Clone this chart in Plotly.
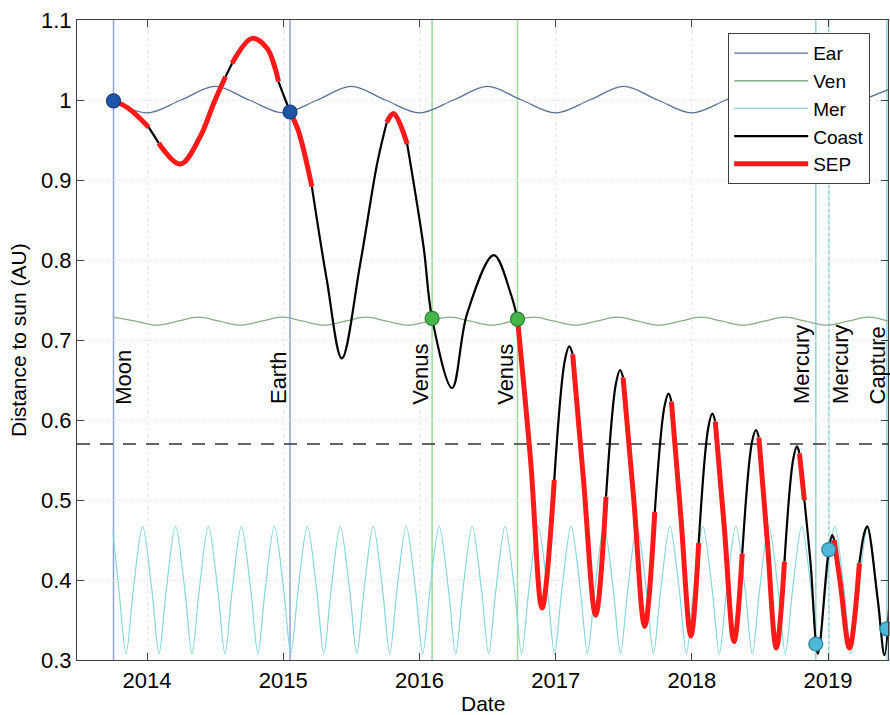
import plotly.graph_objects as go

# ---------------- data ----------------
years = [2014, 2015, 2016, 2017, 2018, 2019]
year_labels = ["2014", "2015", "2016", "2017", "2018", "2019"]
r_ticks = [0.3, 0.4, 0.5, 0.6, 0.7, 0.8, 0.9, 1.0, 1.1]
r_tick_labels = ["0.3", "0.4", "0.5", "0.6", "0.7", "0.8", "0.9", "1", "1.1"]

earth_t = [2013.75, 2014.0, 2014.25, 2014.5, 2014.75, 2015.0, 2015.25, 2015.5,
           2015.75, 2016.0, 2016.25, 2016.5, 2016.75, 2017.0, 2017.25, 2017.5,
           2017.75, 2018.0, 2018.25, 2018.5, 2018.75, 2019.0, 2019.25, 2019.5]
earth_r = [0.999, 0.984, 1.0, 1.017, 1.0, 0.984, 1.0, 1.017,
           1.0, 0.984, 1.0, 1.017, 1.0, 0.984, 1.0, 1.017,
           1.0, 0.984, 1.0, 1.017, 1.0, 0.984, 1.0, 1.017]

venus_t = [2013.750, 2013.916, 2014.070, 2014.224, 2014.378, 2014.531, 2014.685,
           2014.839, 2014.993, 2015.146, 2015.300, 2015.454, 2015.608, 2015.761,
           2015.915, 2016.069, 2016.223, 2016.376, 2016.530, 2016.684, 2016.838,
           2016.991, 2017.145, 2017.299, 2017.453, 2017.606, 2017.760, 2017.914,
           2018.068, 2018.221, 2018.375, 2018.529, 2018.683, 2018.836, 2018.990,
           2019.144, 2019.298, 2019.451, 2019.605]
venus_r = [0.7285, 0.7235, 0.7185, 0.7235, 0.7285, 0.7235, 0.7185,
           0.7235, 0.7285, 0.7235, 0.7185, 0.7235, 0.7285, 0.7235,
           0.7185, 0.7235, 0.7285, 0.7235, 0.7185, 0.7235, 0.7285,
           0.7235, 0.7185, 0.7235, 0.7285, 0.7235, 0.7185, 0.7235,
           0.7285, 0.7235, 0.7185, 0.7235, 0.7285, 0.7235, 0.7185,
           0.7235, 0.7285, 0.7235, 0.7185]

mercury_t = [2013.750, 2013.794,
             2013.846, 2013.899, 2013.967, 2014.036,
             2014.088, 2014.141, 2014.209, 2014.278,
             2014.330, 2014.383, 2014.451, 2014.520,
             2014.572, 2014.625, 2014.693, 2014.762,
             2014.814, 2014.867, 2014.935, 2015.004,
             2015.056, 2015.109, 2015.177, 2015.246,
             2015.298, 2015.351, 2015.419, 2015.488,
             2015.540, 2015.593, 2015.661, 2015.730,
             2015.782, 2015.835, 2015.903, 2015.972,
             2016.024, 2016.077, 2016.145, 2016.214,
             2016.266, 2016.319, 2016.387, 2016.456,
             2016.508, 2016.561, 2016.629, 2016.698,
             2016.750, 2016.803, 2016.871, 2016.940,
             2016.992, 2017.045, 2017.113, 2017.182,
             2017.234, 2017.287, 2017.355, 2017.424,
             2017.476, 2017.529, 2017.597, 2017.666,
             2017.718, 2017.771, 2017.839, 2017.908,
             2017.960, 2018.013, 2018.081, 2018.150,
             2018.202, 2018.255, 2018.323, 2018.392,
             2018.444, 2018.497, 2018.565, 2018.634,
             2018.686, 2018.739, 2018.807, 2018.876,
             2018.928, 2018.981, 2019.049, 2019.118,
             2019.170, 2019.223, 2019.291, 2019.360,
             2019.412, 2019.465]
mercury_r = [0.460, 0.387,
             0.308, 0.387, 0.467, 0.387,
             0.308, 0.387, 0.467, 0.387,
             0.308, 0.387, 0.467, 0.387,
             0.308, 0.387, 0.467, 0.387,
             0.308, 0.387, 0.467, 0.387,
             0.308, 0.387, 0.467, 0.387,
             0.308, 0.387, 0.467, 0.387,
             0.308, 0.387, 0.467, 0.387,
             0.308, 0.387, 0.467, 0.387,
             0.308, 0.387, 0.467, 0.387,
             0.308, 0.387, 0.467, 0.387,
             0.308, 0.387, 0.467, 0.387,
             0.308, 0.387, 0.467, 0.387,
             0.308, 0.387, 0.467, 0.387,
             0.308, 0.387, 0.467, 0.387,
             0.308, 0.387, 0.467, 0.387,
             0.308, 0.387, 0.467, 0.387,
             0.308, 0.387, 0.467, 0.387,
             0.308, 0.387, 0.467, 0.387,
             0.308, 0.387, 0.467, 0.387,
             0.308, 0.387, 0.467, 0.387,
             0.308, 0.387, 0.467, 0.387,
             0.308, 0.387, 0.467, 0.387,
             0.308, 0.387]

# spacecraft trajectory; mode = propulsion state of the arc that starts at the point
traj_t = [2013.754, 2013.860, 2014.012, 2014.086, 2014.245, 2014.390, 2014.490, 2014.576,
          2014.625, 2014.772, 2014.880, 2014.940, 2014.965, 2015.050, 2015.110, 2015.210,
          2015.320, 2015.430, 2015.566, 2015.690, 2015.760, 2015.810, 2015.910, 2016.030,
          2016.093, 2016.240, 2016.350, 2016.546, 2016.670, 2016.720, 2016.816, 2016.900,
          2016.990, 2017.067, 2017.100, 2017.125, 2017.205, 2017.294, 2017.370, 2017.442,
          2017.473, 2017.495, 2017.573, 2017.654, 2017.728, 2017.799, 2017.829, 2017.850,
          2017.919, 2017.993, 2018.050, 2018.120, 2018.150, 2018.172, 2018.238, 2018.310,
          2018.370, 2018.440, 2018.470, 2018.492, 2018.553, 2018.620, 2018.680, 2018.744,
          2018.772, 2018.790, 2018.826, 2018.872, 2018.925, 2019.000, 2019.030, 2019.045,
          2019.090, 2019.157, 2019.230, 2019.265, 2019.287, 2019.365, 2019.414, 2019.450]
traj_r = [0.999, 0.990, 0.966, 0.946, 0.920, 0.954, 0.996, 1.029,
          1.046, 1.077, 1.065, 1.040, 1.023, 0.985, 0.962, 0.892,
          0.775, 0.677, 0.796, 0.921, 0.972, 0.983, 0.945, 0.817,
          0.727, 0.640, 0.733, 0.806, 0.758, 0.726, 0.550, 0.365,
          0.525, 0.674, 0.692, 0.682, 0.524, 0.356, 0.504, 0.645,
          0.6625, 0.653, 0.502, 0.342, 0.485, 0.617, 0.633, 0.623,
          0.480, 0.330, 0.446, 0.590, 0.608, 0.598, 0.466, 0.323,
          0.433, 0.571, 0.5875, 0.578, 0.451, 0.315, 0.423, 0.551,
          0.567, 0.558, 0.500, 0.420, 0.308, 0.430, 0.456, 0.450,
          0.396, 0.315, 0.421, 0.458, 0.467, 0.375, 0.306, 0.370]
traj_mode = ["S", "S", "C", "S", "S", "S", "S", "C",
             "S", "S", "S", "S", "C", "S", "S", "C",
             "C", "C", "C", "C", "S", "S", "C", "C",
             "C", "C", "C", "C", "C", "S", "S", "S",
             "C", "C", "C", "S", "S", "S", "C", "C",
             "C", "S", "S", "S", "C", "C", "C", "S",
             "S", "S", "C", "C", "C", "S", "S", "S",
             "C", "C", "C", "S", "S", "S", "C", "C",
             "C", "S", "C", "C", "C", "C", "C", "S",
             "S", "S", "C", "C", "C", "C", "C", "C"]

# flybys / events
event_names = ["Moon", "Earth", "Venus", "Venus", "Mercury", "Mercury", "Capture"]
event_t = [2013.754, 2015.050, 2016.093, 2016.720, 2018.910, 2019.005, 2019.432]
event_r = [0.999, 0.985, 0.727, 0.726, 0.320, 0.438, 0.339]
event_label_t = [2013.83, 2014.97, 2016.01, 2016.635, 2018.81, 2019.095, 2019.36]
event_kind = ["E", "E", "V", "V", "M", "M", "M"]
label_base_r = 0.617
threshold_r = 0.57

# ---------------- styles ----------------
FONT = "Liberation Sans, Arial, sans-serif"
FS = 22
C_EARTH = "#56719c"
C_VENUS = "#86ad86"
C_MERC = "#86d6e0"
vline_col = {"E": "#8ea4d8", "V": "#9ed99a", "M": "#8fd3dc"}
mark_fill = {"E": "#1f55a8", "V": "#46b54a", "M": "#4db8d8"}
mark_edge = {"E": "#163d7a", "V": "#2a7a2e", "M": "#2a7f9a"}

fig = go.Figure()

# vertical event lines
for t, k in zip(event_t, event_kind):
    fig.add_vline(x=t, line_color=vline_col[k], line_width=1.5, layer="below")

# threshold dashed line
fig.add_hline(y=threshold_r, line_color="#333333", line_width=1.3,
              line_dash="13px,10px", layer="below")

# planets
fig.add_trace(go.Scatter(x=earth_t, y=earth_r, mode="lines", name="Ear",
                         line=dict(color=C_EARTH, width=1.3, shape="spline"),
                         legendrank=1))
fig.add_trace(go.Scatter(x=venus_t, y=venus_r, mode="lines", name="Ven",
                         line=dict(color=C_VENUS, width=1.3, shape="spline"),
                         legendrank=2))
fig.add_trace(go.Scatter(x=mercury_t, y=mercury_r, mode="lines", name="Mer",
                         line=dict(color=C_MERC, width=1.2, shape="spline", smoothing=0.9),
                         legendrank=3))

# trajectory split into coast / thrust runs
runs = []
start = 0
for i in range(1, len(traj_t)):
    if i == len(traj_t) - 1 or traj_mode[i] != traj_mode[start]:
        runs.append((traj_mode[start], start, i))
        start = i
coast_runs = [r for r in runs if r[0] == "C"]
sep_runs = [r for r in runs if r[0] == "S"]

first = True
for m, a, b in coast_runs:
    fig.add_trace(go.Scatter(x=traj_t[a:b + 1], y=traj_r[a:b + 1], mode="lines",
                             name="Coast", legendgroup="coast", showlegend=first,
                             line=dict(color="black", width=2.2, shape="spline"),
                             legendrank=4))
    first = False
first = True
for m, a, b in sep_runs:
    fig.add_trace(go.Scatter(x=traj_t[a:b + 1], y=traj_r[a:b + 1], mode="lines",
                             name="SEP", legendgroup="sep", showlegend=first,
                             line=dict(color="#ff1a1a", width=5, shape="spline"),
                             legendrank=5))
    first = False

# event markers
fig.add_trace(go.Scatter(
    x=event_t, y=event_r, mode="markers", showlegend=False, cliponaxis=False,
    marker=dict(size=14, color=[mark_fill[k] for k in event_kind],
                line=dict(color=[mark_edge[k] for k in event_kind], width=1.2))))

# event labels
for name, t in zip(event_names, event_label_t):
    fig.add_annotation(x=t, y=label_base_r, text=name, textangle=-90,
                       xanchor="center", yanchor="bottom", showarrow=False,
                       font=dict(family=FONT, size=FS, color="black"))

# axis titles
fig.add_annotation(xref="paper", yref="paper", x=-0.0727, y=0.5, text="Distance to sun (AU)",
                   textangle=-90, xanchor="center", yanchor="middle", showarrow=False,
                   font=dict(family=FONT, size=FS - 1, color="black"))
fig.add_annotation(xref="paper", yref="paper", x=0.5, y=-0.0672, text="Date",
                   xanchor="center", yanchor="middle", showarrow=False,
                   font=dict(family=FONT, size=FS - 1, color="black"))

axis_common = dict(showline=True, linecolor="#404040", linewidth=1.2, mirror="ticks",
                   ticks="inside", ticklen=7, tickcolor="#404040",
                   showgrid=True, gridcolor="#ebebeb", griddash="dot", gridwidth=1,
                   zeroline=False, automargin=False,
                   tickfont=dict(family=FONT, size=FS, color="black"))

fig.update_layout(
    width=890, height=715,
    margin=dict(l=77, r=2, t=20, b=55),
    paper_bgcolor="white", plot_bgcolor="white",
    font=dict(family=FONT, size=FS, color="black"),
    xaxis=dict(range=[2013.486, 2019.44], tickvals=years, ticktext=year_labels,
               **axis_common),
    yaxis=dict(range=[0.3, 1.1], tickvals=r_ticks, ticktext=r_tick_labels,
               **axis_common),
    legend=dict(x=0.8027, y=0.9797, xanchor="left", yanchor="top",
                bgcolor="white", bordercolor="#404040", borderwidth=1.2,
                font=dict(family=FONT, size=19), itemwidth=74,
                tracegroupgap=0, traceorder="normal"),
)

fig.write_html("out.html",
               config={"displayModeBar": False},
               post_script="document.body.style.margin='0px';"
                           "document.body.style.overflow='hidden';")
